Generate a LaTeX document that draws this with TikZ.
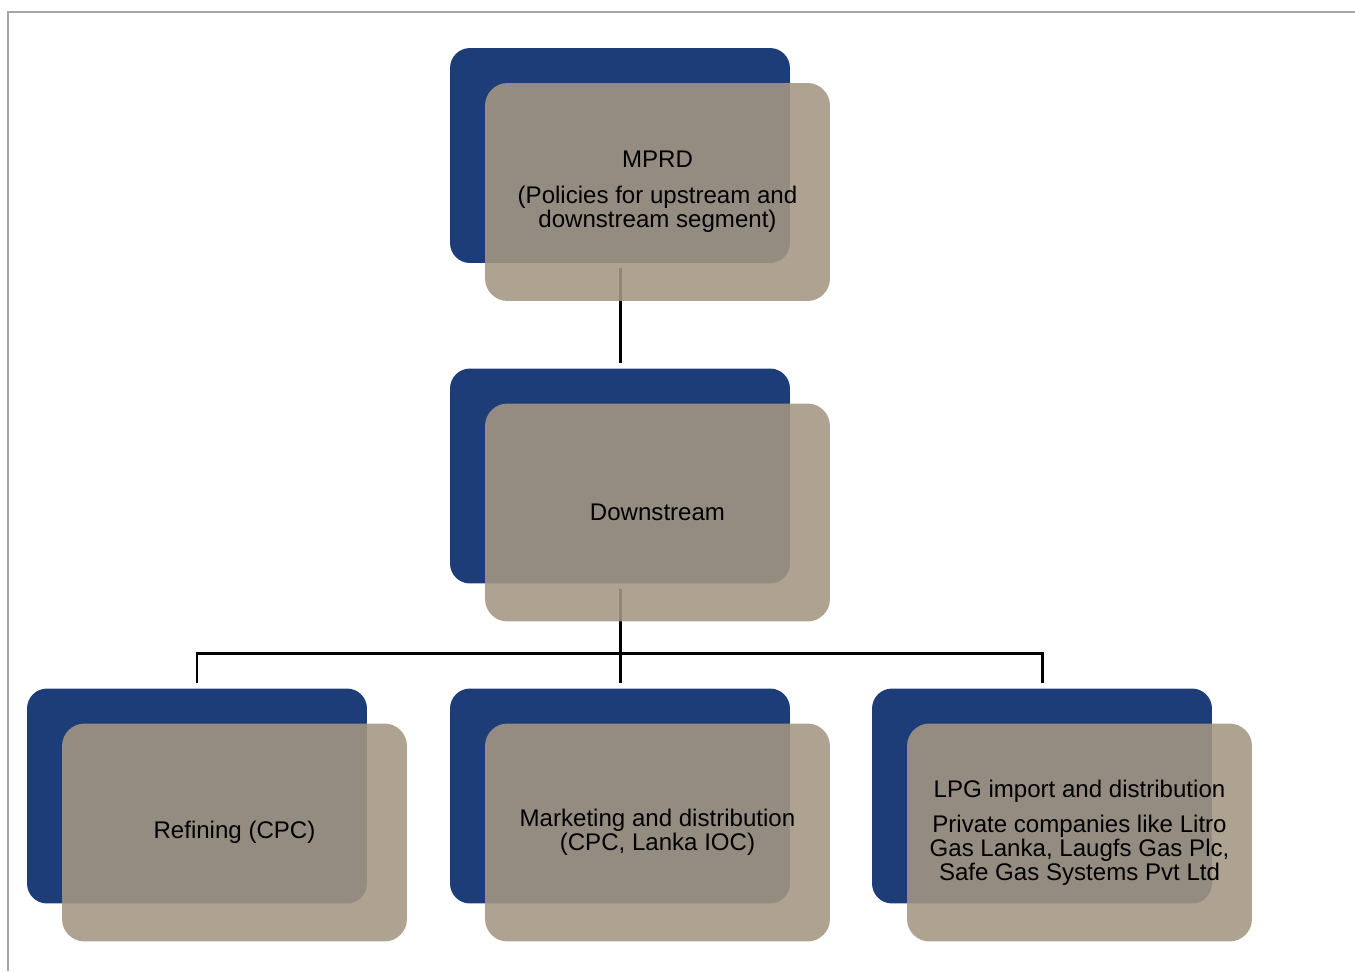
\documentclass[tikz,border=0pt]{standalone}
\usepackage{fontspec}
\setmainfont{Liberation Sans}
\usetikzlibrary{positioning}
\definecolor{mapblue}{RGB}{28,61,120}
\definecolor{maptan}{RGB}{164,150,131}
\definecolor{framegray}{RGB}{166,166,166}

\begin{document}
\begin{tikzpicture}[x=0.02cm,y=-0.02cm,
  backbox/.style={rectangle,rounded corners=0.4cm,fill=mapblue,minimum width=6.8cm,minimum height=4.3cm,outer ysep=3pt},
  frontbox/.style={rectangle,rounded corners=0.45cm,fill=maptan,fill opacity=0.89,text opacity=1,minimum width=6.9cm,minimum height=4.36cm,align=center,font=\fontsize{13.7}{13.7}\selectfont},
  link/.style={line width=1.7pt}]
  \useasboundingbox (0,0) rectangle (1355,971);
  \draw[framegray,line width=1.1pt] (8,971) -- (8,12) -- (1355,12);

  % back boxes
  \node[backbox] (mprdB) at (620,155.5) {};
  \node[backbox] (downB) at (620,476) {};
  \node[backbox] (refB) at (197,796) {};
  \node[backbox] (mktB) at (620,796) {};
  \node[backbox] (lpgB) at (1042,796) {};

  % connectors
  \coordinate (bus) at (620,653);
  \draw[link] (mprdB.south) -- (downB.north);
  \draw[link] (downB.south) -- (bus);
  \draw[link] (refB.north) |- (bus) -| (lpgB.north);
  \draw[link] (bus) -- (mktB.north);

  % front boxes
  \node[frontbox] (mprd) at ([xshift=0.75cm,yshift=-0.73cm]mprdB.center)
    {MPRD\\[6.8pt](Policies for upstream and\\downstream segment)};
  \node[frontbox] (down) at ([xshift=0.75cm,yshift=-0.73cm]downB.center) {Downstream};
  \node[frontbox] (ref) at ([xshift=0.75cm,yshift=-0.73cm]refB.center) {Refining (CPC)};
  \node[frontbox] (mkt) at ([xshift=0.75cm,yshift=-0.73cm]mktB.center)
    {Marketing and distribution\\(CPC, Lanka IOC)};
  \node[frontbox] (lpg) at ([xshift=0.75cm,yshift=-0.73cm]lpgB.center)
    {LPG import and distribution\\[6.3pt]Private companies like Litro\\Gas Lanka, Laugfs Gas Plc,\\Safe Gas Systems Pvt Ltd};
\end{tikzpicture}
\end{document}
